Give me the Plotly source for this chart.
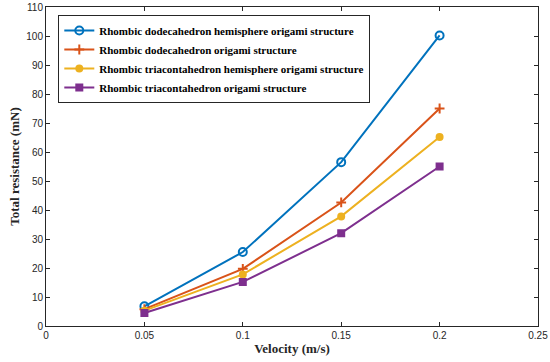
import plotly.graph_objects as go

velocity = [0.05, 0.10, 0.15, 0.20]
rd_hemi = [6.8, 25.5, 56.5, 100.2]
rd_origami = [5.8, 19.7, 42.6, 75.0]
rt_hemi = [5.3, 17.8, 37.8, 65.2]
rt_origami = [4.5, 15.2, 32.0, 55.0]

names = [
    "Rhombic dodecahedron hemisphere origami structure",
    "Rhombic dodecahedron origami structure",
    "Rhombic triacontahedron hemisphere origami structure",
    "Rhombic triacontahedron origami structure",
]
colors = ["#0072BD", "#D95319", "#EDB120", "#7E2F8E"]
symbols = ["circle-open", "cross-thin-open", "circle", "square"]
sizes = [8, 7, 6, 6]
series = [rd_hemi, rd_origami, rt_hemi, rt_origami]

fig = go.Figure()
for n, c, s, sz, y in zip(names, colors, symbols, sizes, series):
    fig.add_trace(go.Scatter(
        x=velocity, y=y, name=n, mode="lines+markers",
        line=dict(color=c, width=2),
        marker=dict(symbol=s, size=sz, color=c, line=dict(color=c, width=2)),
    ))

axis_common = dict(
    showgrid=False, zeroline=False, showline=True, linecolor="#262626", linewidth=1,
    mirror="ticks", ticks="inside", ticklen=4, tickcolor="#262626", automargin=False,
    tickfont=dict(family="Liberation Sans, Arial", size=10, color="#262626"),
)
fig.update_layout(
    width=550, height=362,
    margin=dict(l=46, r=12, t=7, b=36),
    paper_bgcolor="white", plot_bgcolor="white",
    xaxis=dict(range=[0, 0.25], tickvals=[0, 0.05, 0.1, 0.15, 0.2, 0.25],
               ticktext=["0", "0.05", "0.1", "0.15", "0.2", "0.25"],
               title=dict(text="<b>Velocity (m/s)</b>", standoff=3,
                          font=dict(family="Liberation Serif, Times New Roman", size=13, color="#262626")),
               **axis_common),
    yaxis=dict(range=[0, 110], tickvals=list(range(0, 111, 10)),
               title=dict(text="<b>Total resistance (mN)</b>", standoff=3,
                          font=dict(family="Liberation Serif, Times New Roman", size=13, color="#262626")),
               **axis_common),
    legend=dict(x=0.025, y=0.975, xanchor="left", yanchor="top",
                bordercolor="#262626", borderwidth=1, bgcolor="white",
                font=dict(family="Liberation Serif, Times New Roman", size=11, color="black", weight="bold"),
                tracegroupgap=0, itemwidth=30),
    showlegend=True,
)
fig.write_html("out.html", config={"displayModeBar": False},
               post_script="document.body.style.margin='0';document.body.style.overflow='hidden';")
